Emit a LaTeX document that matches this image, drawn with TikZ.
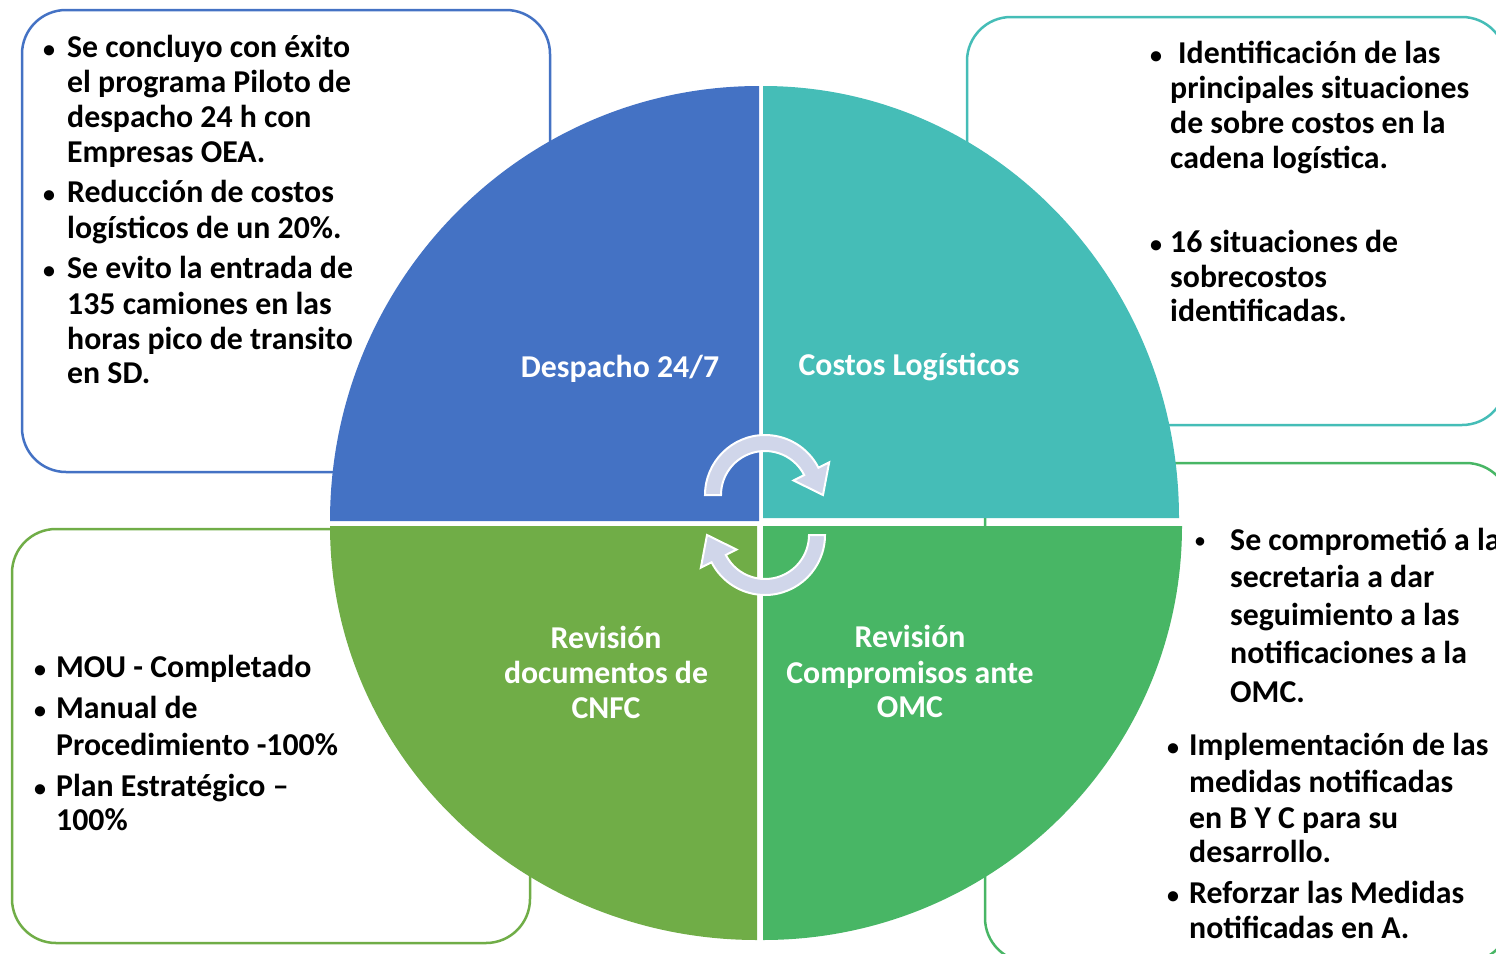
\documentclass[tikz,border=0pt]{standalone}
\usepackage{fontspec}
\setmainfont{Carlito}
\usetikzlibrary{calc}
\definecolor{qblue}{HTML}{4472C4}
\definecolor{qteal}{HTML}{45BDB7}
\definecolor{qgreen}{HTML}{70AD47}
\definecolor{qmint}{HTML}{48B665}
\definecolor{cycfill}{HTML}{D0D6EA}
\tikzset{
  txt/.style={font=\fontsize{31.8}{36}\selectfont\bfseries, inner sep=0pt, anchor=base west},
  lbl/.style={txt, text=white, anchor=base},
  dot/.style={txt, anchor=base, font=\fontsize{24}{30}\selectfont\bfseries},
  card/.style={line width=2.5pt, fill=white, rounded corners=44pt},
  cyc/.style={fill=cycfill, draw=white, line width=2pt, line join=miter},
}
\begin{document}
\begin{tikzpicture}[x=1pt,y=-1pt]
  \useasboundingbox (0,0) rectangle (1496,953);
  \clip (0,0) rectangle (1496,953);

  %%%%% CARDS %%%%%
  \draw[card, draw=qblue] (22,10) rectangle (550,472);
  \draw[card, draw=qteal] (967,17) rectangle (1506,425);
  \draw[card, draw=qmint] (985,463) rectangle (1510,962);
  \draw[card, draw=qgreen] (12,529) rectangle (530,943);

  %%%%% QUADRANTS %%%%%
  \fill[qblue] (759,521) -- (330,521) arc[start angle=180, end angle=270, x radius=429, y radius=435] -- cycle;
  \fill[qteal] (763,518) -- (763,86) arc[start angle=270, end angle=360, x radius=416, y radius=432] -- cycle;
  \fill[qgreen] (757,526) -- (757,940) arc[start angle=90, end angle=180, x radius=427, y radius=414] -- cycle;
  \fill[qmint] (763,526) -- (1182,526) arc[start angle=0, end angle=90, x radius=419, y radius=414] -- cycle;

  %%%%% CYCLE ARROWS %%%%%
  \coordinate (T) at (765,495);
  \coordinate (B) at (765,535);
  \draw[cyc] ($(T)+(180:60)$) arc[start angle=180, end angle=333, radius=60]
    -- ($(T)+(333:72)$) -- ($(T)+(0:58)$) -- ($(T)+(333:32)$)
    -- ($(T)+(333:44)$) arc[start angle=333, end angle=180, radius=44] -- cycle;
  \draw[cyc] ($(B)+(0:60)$) arc[start angle=0, end angle=153, radius=60]
    -- ($(B)+(153:72)$) -- ($(B)+(180:58)$) -- ($(B)+(153:32)$)
    -- ($(B)+(153:44)$) arc[start angle=153, end angle=0, radius=44] -- cycle;

  %%%%% LABELS %%%%%
  \node[lbl] (despacho) at (620,377) {Despacho 24/7};
  \node[lbl] (costos) at (909,375) {Costos Logísticos};
  \foreach \y/\t [count=\i] in {648/Revisión, 683/documentos de, 718/CNFC}
    \node[lbl] (cnfc\i) at (606,\y) {\t};
  \foreach \y/\t [count=\i] in {647/Revisión, 683/Compromisos ante, 717/OMC}
    \node[lbl] (omc\i) at (910,\y) {\t};

  %%%%% TOP LEFT %%%%%
  \foreach \y [count=\i] in {57,202,278}
    \node[dot] (tlb\i) at (49,\y) {•};
  \foreach \y/\t [count=\i] in {57/Se concluyo con éxito, 92/el programa Piloto de,
      127/despacho 24 h con, 162/Empresas OEA., 202/Reducción de costos,
      238/logísticos de un 20\%., 278/Se evito la entrada de, 314/135 camiones en las,
      349/horas pico de transito, 383/en SD.}
    \node[txt] (tl\i) at (67,\y) {\t};

  %%%%% TOP RIGHT %%%%%
  \foreach \y [count=\i] in {63,252}
    \node[dot] (trb\i) at (1156,\y) {•};
  \node[txt] (tr0) at (1178,63) {Identificación de las};
  \foreach \y/\t [count=\i] in {98/principales situaciones, 133/de sobre costos en la,
      168/cadena logística., 252/16 situaciones de, 287/sobrecostos, 321/identificadas.}
    \node[txt] (tr\i) at (1170,\y) {\t};

  %%%%% BOTTOM RIGHT %%%%%
  \node[dot, font=\fontsize{20}{30}\selectfont\bfseries] (brb0) at (1200,547) {•};
  \foreach \y/\t [count=\i] in {550/Se comprometió a la, 587/secretaria a dar,
      625/seguimiento a las, 663/notificaciones a la, 702/OMC.}
    \node[txt] (bra\i) at (1230,\y) {\t};
  \foreach \y [count=\i] in {755,903}
    \node[dot] (brb\i) at (1173,\y) {•};
  \foreach \y/\t [count=\i] in {755/Implementación de las, 792/medidas notificadas,
      828/en B Y C para su, 862/desarrollo., 903/Reforzar las Medidas, 938/notificadas en A.}
    \node[txt] (br\i) at (1189,\y) {\t};

  %%%%% BOTTOM LEFT %%%%%
  \foreach \y [count=\i] in {677,718,796}
    \node[dot] (blb\i) at (40,\y) {•};
  \foreach \y/\t [count=\i] in {677/MOU - Completado, 718/Manual de,
      755/Procedimiento -100\%, 796/Plan Estratégico –, 830/100\%}
    \node[txt] (bl\i) at (56,\y) {\t};
\end{tikzpicture}
\end{document}
